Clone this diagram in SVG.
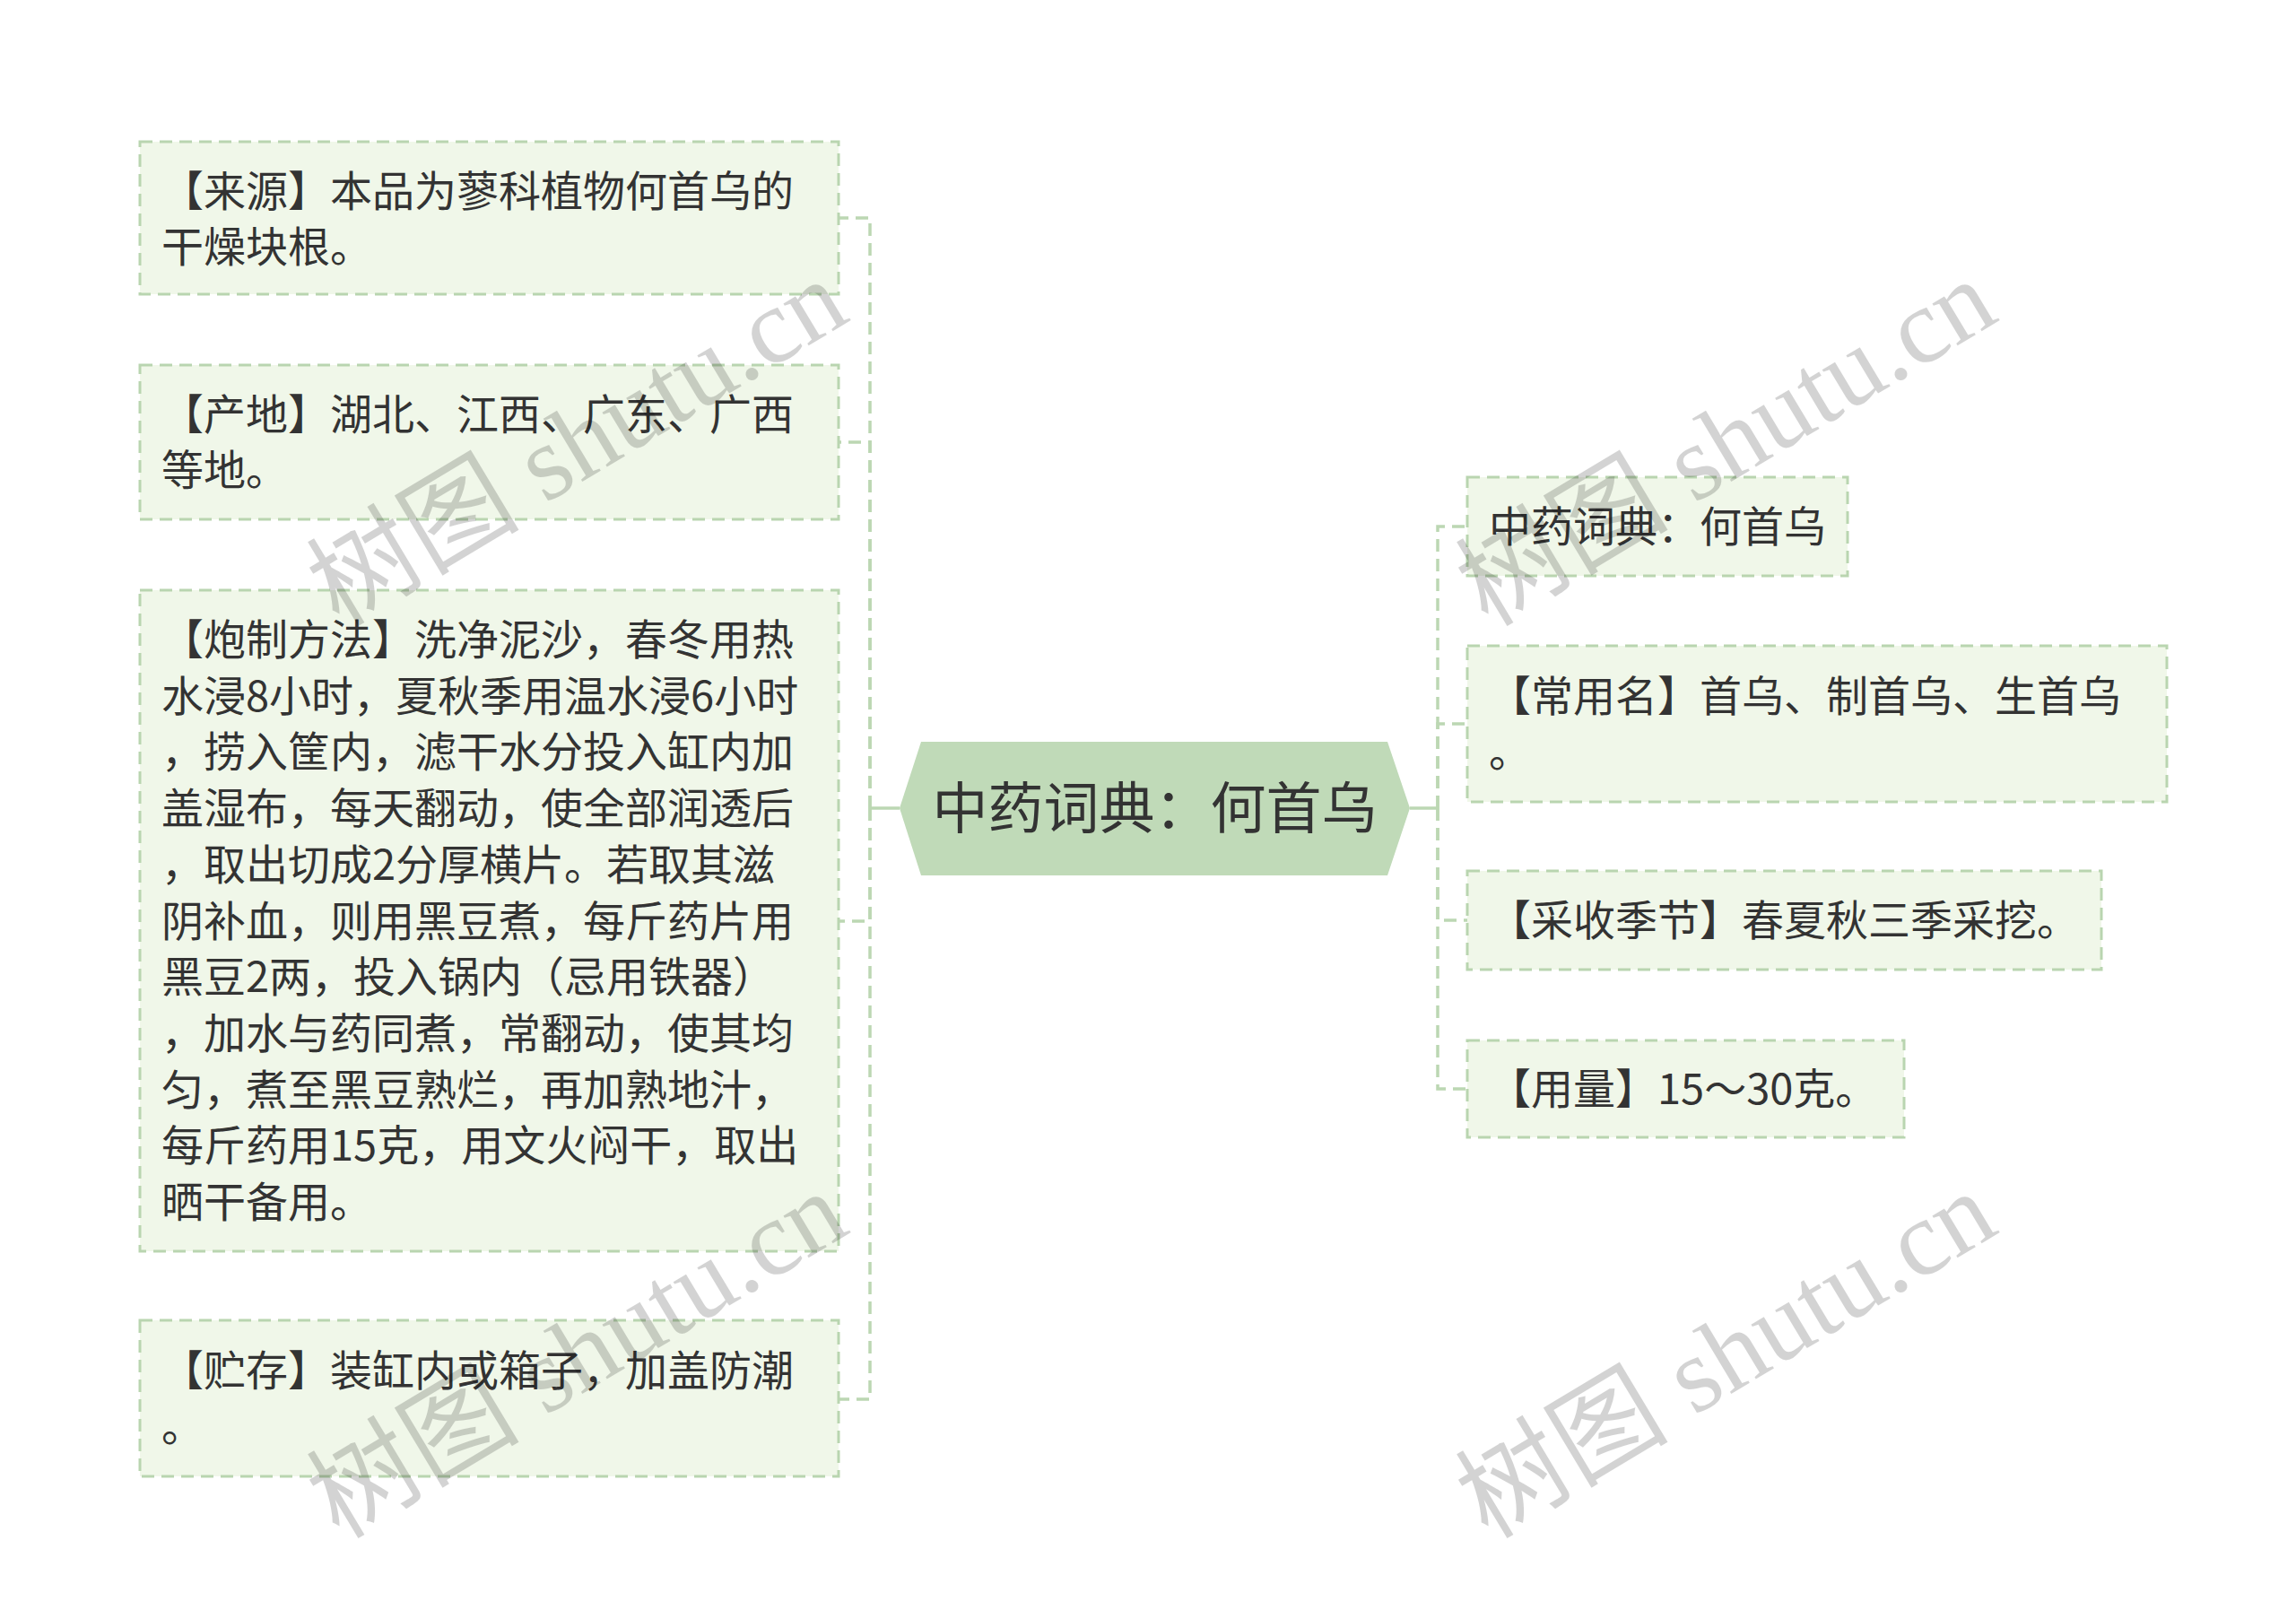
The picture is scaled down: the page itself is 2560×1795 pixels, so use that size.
<svg xmlns="http://www.w3.org/2000/svg" width="2560" height="1795" viewBox="0 0 2560 1795">
<style>
.box{fill:#f0f7e9;stroke:#b9d5b0;stroke-width:3;stroke-dasharray:14 8}
.t{font-family:"Noto Sans CJK SC","Noto Sans",sans-serif;font-size:47px;fill:#333}
.c{font-family:"Noto Sans CJK SC","Noto Sans",sans-serif;font-size:62px;fill:#333;text-anchor:middle}
.dl{fill:none;stroke:#bcd7b3;stroke-width:3.5;stroke-dasharray:14 8}
.sl{fill:none;stroke:#bcd7b3;stroke-width:3.5}
.wm{font-family:"Liberation Serif","Noto Sans CJK SC",serif;font-size:119px;fill:#000;opacity:0.17}
</style>
<rect width="2560" height="1795" fill="#ffffff"/>
<g id="connectors">
<path class="sl" d="M1003 901 H970"/>
<path class="dl" d="M970 901 V243 H935"/>
<path class="dl" d="M970 901 V493 H935"/>
<path class="dl" d="M970 901 V1027 H935"/>
<path class="dl" d="M970 901 V1560 H935"/>
<path class="sl" d="M1572 901 H1603"/>
<path class="dl" d="M1603 901 V587 H1636"/>
<path class="dl" d="M1603 901 V807 H1636"/>
<path class="dl" d="M1603 901 V1026 H1636"/>
<path class="dl" d="M1603 901 V1214 H1636"/>
</g>
<g id="center">
<polygon points="1003,901 1027,827 1547,827 1572,901 1547,976 1027,976" fill="#c0dab8"/>
<text class="c" x="1287.5" y="924">中药词典：何首乌</text>
</g>
<g id="n-laiyuan">
<rect class="box" x="156" y="158" width="779" height="170"/>
<text class="t" x="180" y="230">【来源】本品为蓼科植物何首乌的</text>
<text class="t" x="180" y="292">干燥块根。</text>
</g>
<g id="n-chandi">
<rect class="box" x="156" y="407" width="779" height="172"/>
<text class="t" x="180" y="479">【产地】湖北、江西、广东、广西</text>
<text class="t" x="180" y="541">等地。</text>
</g>
<g id="n-paozhi">
<rect class="box" x="156" y="658" width="779" height="737"/>
<text class="t" x="180" y="730">【炮制方法】洗净泥沙，春冬用热</text>
<text class="t" x="180" y="792.7">水浸8小时，夏秋季用温水浸6小时</text>
<text class="t" x="180" y="855.4">，捞入筐内，滤干水分投入缸内加</text>
<text class="t" x="180" y="918.1">盖湿布，每天翻动，使全部润透后</text>
<text class="t" x="180" y="980.8">，取出切成2分厚横片。若取其滋</text>
<text class="t" x="180" y="1043.5">阴补血，则用黑豆煮，每斤药片用</text>
<text class="t" x="180" y="1106.2">黑豆2两，投入锅内（忌用铁器）</text>
<text class="t" x="180" y="1168.9">，加水与药同煮，常翻动，使其均</text>
<text class="t" x="180" y="1231.6">匀，煮至黑豆熟烂，再加熟地汁，</text>
<text class="t" x="180" y="1294.3">每斤药用15克，用文火闷干，取出</text>
<text class="t" x="180" y="1357">晒干备用。</text>
</g>
<g id="n-zhucun">
<rect class="box" x="156" y="1472" width="779" height="174"/>
<text class="t" x="180" y="1545">【贮存】装缸内或箱子，加盖防潮</text>
<text class="t" x="180" y="1607">。</text>
</g>
<g id="n-title">
<rect class="box" x="1636" y="532" width="424" height="110"/>
<text class="t" x="1660" y="604">中药词典：何首乌</text>
</g>
<g id="n-changyong">
<rect class="box" x="1636" y="720" width="780" height="174"/>
<text class="t" x="1660" y="793">【常用名】首乌、制首乌、生首乌</text>
<text class="t" x="1660" y="855">。</text>
</g>
<g id="n-caishou">
<rect class="box" x="1636" y="971" width="707" height="110"/>
<text class="t" x="1660" y="1043">【采收季节】春夏秋三季采挖。</text>
</g>
<g id="n-yongliang">
<rect class="box" x="1636" y="1160" width="487" height="108"/>
<text class="t" x="1660" y="1231">【用量】15～30克。</text>
</g>
<g id="watermarks">
<text class="wm" transform="translate(378,700) rotate(-31)">树图 shutu.cn</text>
<text class="wm" transform="translate(1659,700) rotate(-31)">树图 shutu.cn</text>
<text class="wm" transform="translate(378,1717) rotate(-31)">树图 shutu.cn</text>
<text class="wm" transform="translate(1659,1717) rotate(-31)">树图 shutu.cn</text>
</g>
</svg>
